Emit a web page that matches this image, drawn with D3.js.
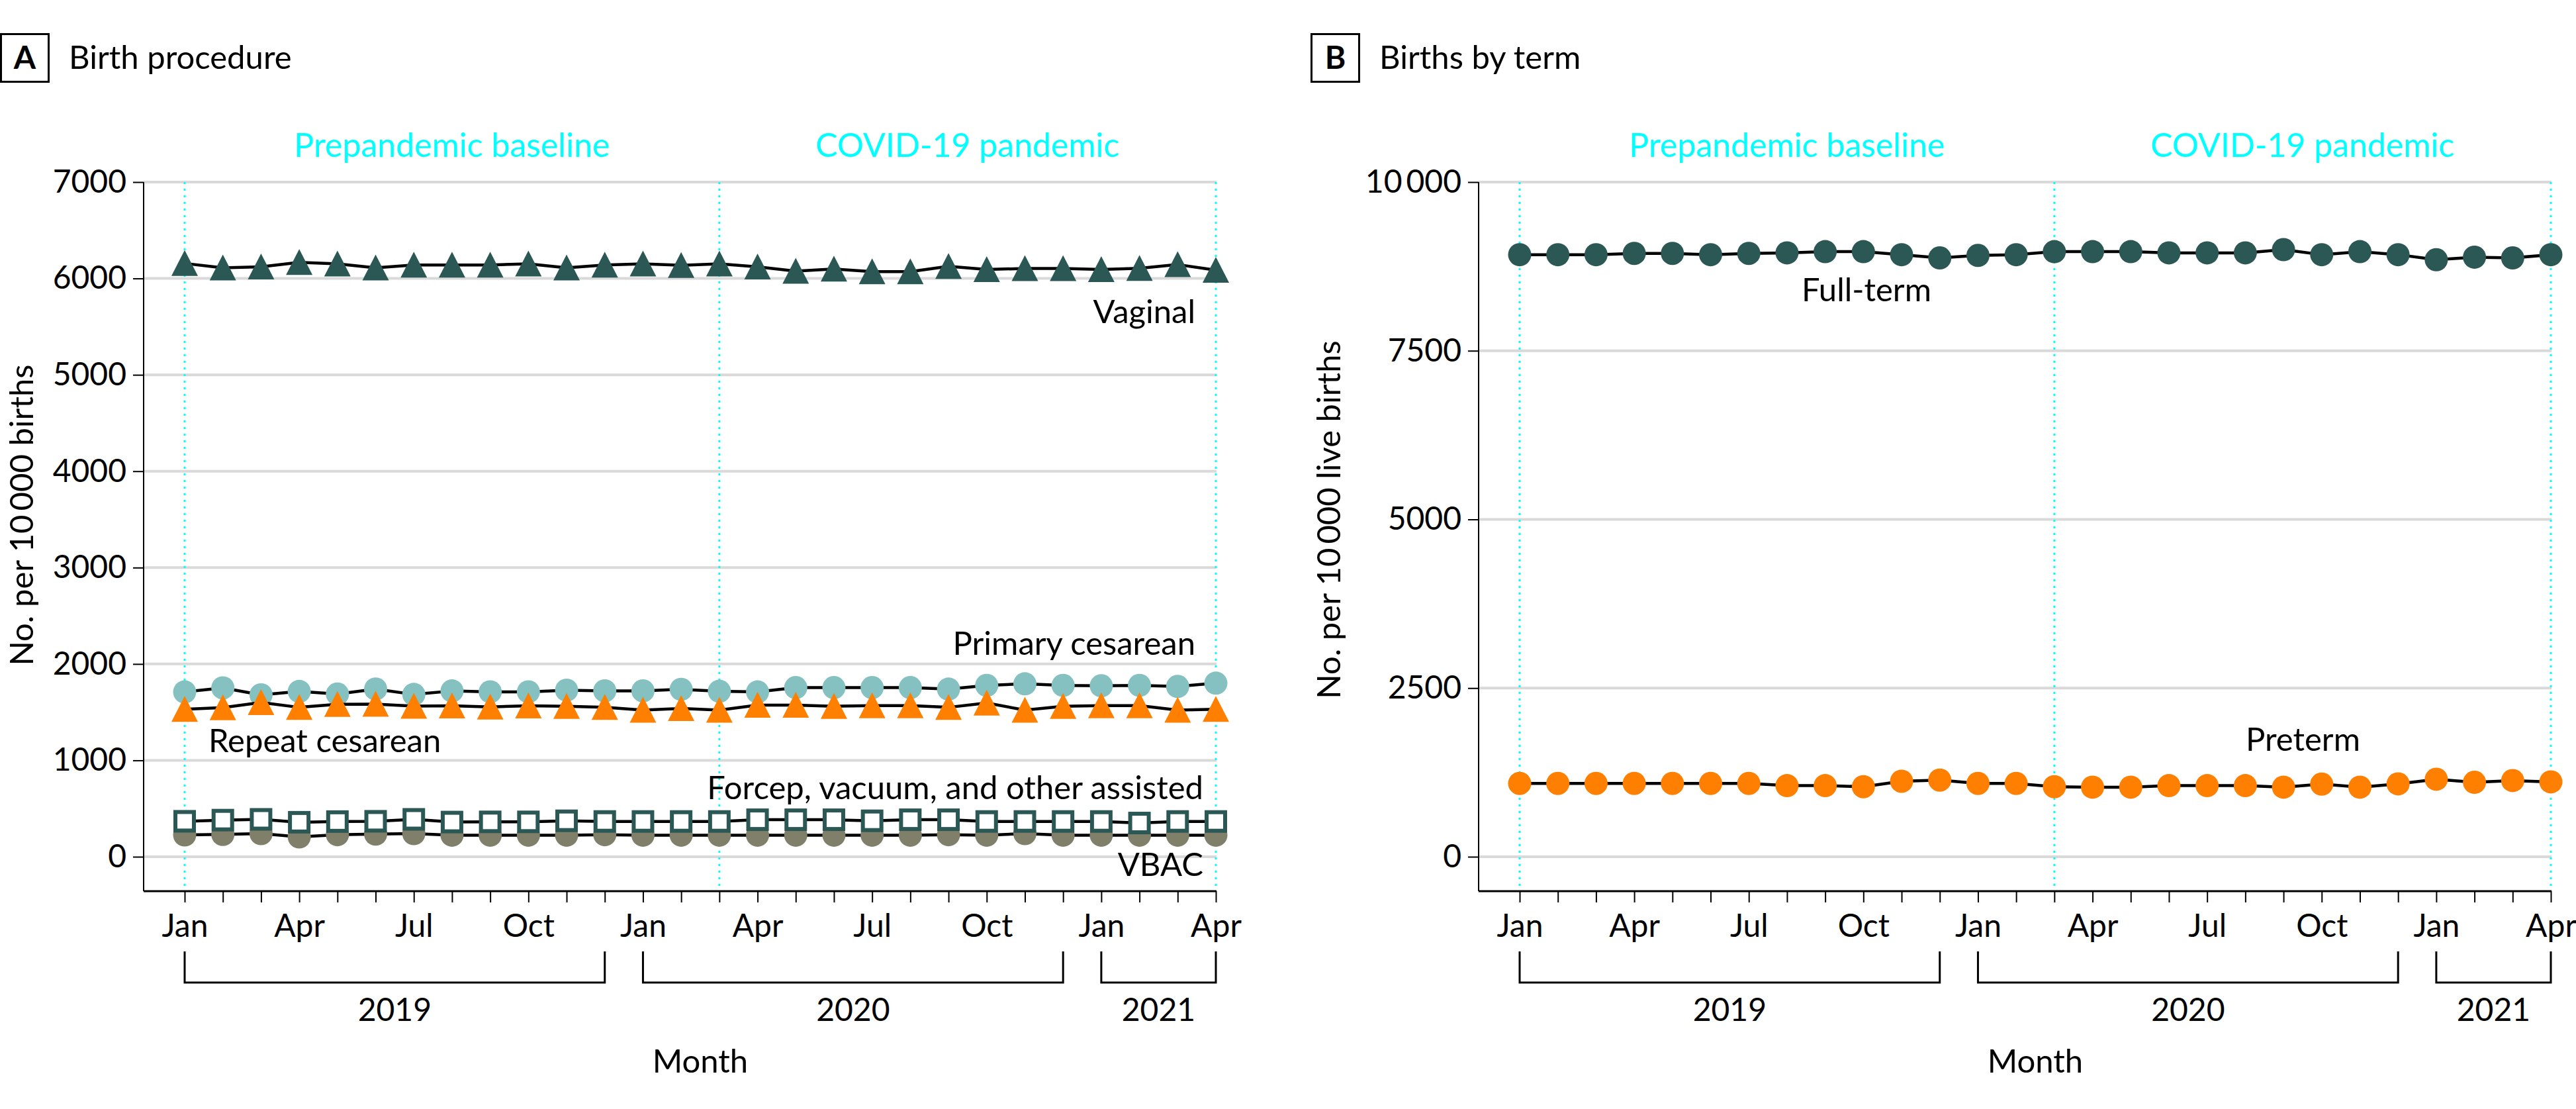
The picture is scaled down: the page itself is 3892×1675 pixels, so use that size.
<!DOCTYPE html>
<html>
<head>
<meta charset="utf-8">
<script src="https://cdnjs.cloudflare.com/ajax/libs/d3/7.8.5/d3.min.js"></script>
<style>
  body { margin: 0; background: #fff; }
  svg text { font-family: Lato, "DejaVu Sans", sans-serif; fill: #000; }
</style>
</head>
<body>
<svg id="chart" width="3892" height="1675"></svg>
<script>
// Months Jan 2019 .. Apr 2021
const monthLabels = ["Jan","Feb","Mar","Apr","May","Jun","Jul","Aug","Sep","Oct","Nov","Dec",
                     "Jan","Feb","Mar","Apr","May","Jun","Jul","Aug","Sep","Oct","Nov","Dec",
                     "Jan","Feb","Mar","Apr"];
const years = ["2019", "2020", "2021"];
const yearStart = [0, 12, 24];
const yearEnd = [11, 23, 27];
const periodNames = ["Prepandemic baseline", "COVID-19 pandemic"];
const periodBreaks = [0, 14, 27];

// Panel A - birth procedure, per 10 000 births
const vaginal = [6156,6110,6121,6167,6151,6110,6140,6140,6140,6151,6110,6140,6151,6137,
                 6151,6121,6076,6098,6071,6071,6126,6094,6103,6103,6094,6105,6144,6087];
const primaryCesarean = [1710,1752,1680,1715,1688,1740,1684,1720,1711,1711,1728,1721,1721,1737,
                         1717,1710,1755,1755,1755,1755,1739,1778,1794,1778,1774,1778,1767,1801];
const repeatCesarean = [1530,1548,1600,1550,1582,1584,1563,1566,1555,1566,1561,1550,1522,1538,
                        1522,1573,1573,1561,1568,1568,1550,1595,1522,1561,1568,1568,1522,1531];
const forcepAssisted = [368,380,388,358,365,368,388,360,362,362,373,366,366,366,
                        366,384,384,384,373,384,384,366,366,366,366,350,366,366];
const vbac = [226,231,240,206,229,235,240,224,224,224,224,229,224,224,
              224,224,224,224,224,224,229,224,240,224,224,224,224,224];
const ticksA = [0, 1000, 2000, 3000, 4000, 5000, 6000, 7000];

// Panel B - births by term, per 10 000 live births
const fullTerm = [8924,8924,8924,8943,8943,8924,8943,8951,8969,8969,8924,8876,8913,8924,
                  8969,8969,8969,8951,8951,8951,8999,8924,8969,8924,8849,8887,8876,8924];
const preterm = [1087,1087,1087,1087,1087,1087,1087,1054,1054,1038,1119,1136,1087,1087,
                 1038,1031,1031,1054,1054,1054,1031,1077,1031,1080,1149,1104,1129,1110];
const ticksB = [0, 2500, 5000, 7500, 10000];

const svg = d3.select("#chart");

const teal = "#2b5754";
const triangle = "M0,-20L20,19L-20,19Z";

//Layout
const plotLeft = 217, firstX = 279, lastX = 1837;
const plotTop = 275, zeroY = 1294, axisY = 1346;
const fmt = (d) => d >= 10000 ? d3.format(",")(d).replace(",", "\u2009") : String(d);

function drawPanel(cfg) {
	const g = svg.append("g").attr("transform", "translate(" + cfg.dx + ",0)");

	const x = d3.scaleLinear().domain([0, monthLabels.length - 1]).range([firstX, lastX]);
	const y = d3.scaleLinear().domain([0, cfg.yMax]).range([zeroY, plotTop]);
	const right = x(monthLabels.length - 1) + 1;

	//Gridlines
	g.append("g").selectAll("line")
	 .data(cfg.ticks)
	 .join("line")
	 .attr("x1", plotLeft).attr("x2", right)
	 .attr("y1", (d) => y(d)).attr("y2", (d) => y(d))
	 .attr("stroke", "#d9d9d9")
	 .attr("stroke-width", 4);

	//Period lines
	g.append("g").selectAll("line")
	 .data(periodBreaks)
	 .join("line")
	 .attr("x1", (d) => x(d)).attr("x2", (d) => x(d))
	 .attr("y1", y(cfg.yMax)).attr("y2", axisY - 6)
	 .attr("stroke", "#00ffff")
	 .attr("stroke-width", 3)
	 .attr("stroke-dasharray", "3 7");

	g.append("g").selectAll("text")
	 .data(periodNames)
	 .join("text")
	 .attr("x", (d, i) => (x(periodBreaks[i]) + x(periodBreaks[i + 1])) / 2)
	 .attr("y", 237)
	 .attr("text-anchor", "middle")
	 .style("font-size", "50px")
	 .style("fill", "#00ffff")
	 .text((d) => d);

	//Y axis
	const yAxis = d3.axisLeft(y)
		.tickValues(cfg.ticks)
		.tickSize(16)
		.tickSizeOuter(0)
		.tickPadding(10)
		.tickFormat(fmt);
	const yg = g.append("g").attr("transform", "translate(" + plotLeft + ",0)").call(yAxis);
	yg.select(".domain").remove();
	yg.selectAll(".tick line").attr("stroke-width", 2);
	yg.selectAll(".tick text").style("font-size", "48px").attr("font-family", null);
	g.append("line")
	 .attr("x1", plotLeft).attr("x2", plotLeft)
	 .attr("y1", y(cfg.yMax)).attr("y2", axisY)
	 .attr("stroke", "#000").attr("stroke-width", 2);

	g.append("text")
	 .attr("transform", "translate(" + cfg.titleX + "," + cfg.titleY + ") rotate(-90)")
	 .attr("text-anchor", "middle")
	 .style("font-size", "49px")
	 .text(cfg.yTitle);

	//X axis
	const xAxis = d3.axisBottom(x)
		.tickValues(d3.range(monthLabels.length))
		.tickSize(17)
		.tickSizeOuter(0)
		.tickPadding(18)
		.tickFormat((d) => d % 3 === 0 ? monthLabels[d] : "");
	const xg = g.append("g").attr("transform", "translate(0," + axisY + ")").call(xAxis);
	xg.select(".domain").remove();
	xg.selectAll(".tick line").attr("stroke-width", 2);
	xg.selectAll(".tick text").style("font-size", "48px").attr("font-family", null);
	g.append("line")
	 .attr("x1", plotLeft).attr("x2", right)
	 .attr("y1", axisY).attr("y2", axisY)
	 .attr("stroke", "#000").attr("stroke-width", 3);

	//Year brackets
	g.append("g").selectAll("path")
	 .data(years)
	 .join("path")
	 .attr("d", (d, i) => "M" + x(yearStart[i]) + ",1437V1484H" + x(yearEnd[i]) + "V1437")
	 .attr("fill", "none")
	 .attr("stroke", "#000")
	 .attr("stroke-width", 3);

	g.append("g").selectAll("text")
	 .data(years)
	 .join("text")
	 .attr("x", (d, i) => (x(yearStart[i]) + x(yearEnd[i])) / 2)
	 .attr("y", 1542)
	 .attr("text-anchor", "middle")
	 .style("font-size", "48px")
	 .text((d) => d);

	g.append("text")
	 .attr("x", (x(0) + x(monthLabels.length - 1)) / 2)
	 .attr("y", 1620)
	 .attr("text-anchor", "middle")
	 .style("font-size", "49px")
	 .text("Month");

	//Series
	const line = d3.line().x((d, i) => x(i)).y((d) => y(d));
	cfg.series.forEach(function (s) {
		g.append("path")
		 .datum(s.values)
		 .attr("d", line)
		 .attr("fill", "none")
		 .attr("stroke", "#000")
		 .attr("stroke-width", 4.5)
		 .attr("stroke-linejoin", "round");

		const m = g.append("g");
		if (s.shape === "circle") {
			m.selectAll("circle").data(s.values).join("circle")
			 .attr("cx", (d, i) => x(i)).attr("cy", (d) => y(d))
			 .attr("r", 17.5)
			 .attr("fill", s.color);
		} else if (s.shape === "triangle") {
			m.selectAll("path").data(s.values).join("path")
			 .attr("d", triangle)
			 .attr("transform", (d, i) => "translate(" + x(i) + "," + y(d) + ")")
			 .attr("fill", s.color);
		} else {
			m.selectAll("rect").data(s.values).join("rect")
			 .attr("x", (d, i) => x(i) - 14).attr("y", (d) => y(d) - 14)
			 .attr("width", 28).attr("height", 28)
			 .attr("fill", "#fff")
			 .attr("stroke", s.color)
			 .attr("stroke-width", 6);
		}
	});

	g.append("g").selectAll("text")
	 .data(cfg.series)
	 .join("text")
	 .attr("x", (d) => d.lx)
	 .attr("y", (d) => d.ly)
	 .attr("text-anchor", (d) => d.anchor)
	 .style("font-size", "49px")
	 .text((d) => d.label);

	//Panel header
	const h = svg.append("g").attr("transform", "translate(" + cfg.hx + ",0)");
	h.append("rect")
	 .attr("x", 1.5).attr("y", 51.5).attr("width", 72).attr("height", 72)
	 .attr("fill", "none").attr("stroke", "#000").attr("stroke-width", 3);
	h.append("text")
	 .attr("x", 37.5).attr("y", 104)
	 .attr("text-anchor", "middle")
	 .style("font-size", "48px").style("font-weight", "bold")
	 .text(cfg.letter);
	h.append("text")
	 .attr("x", 104).attr("y", 104)
	 .style("font-size", "49px")
	 .text(cfg.title);
}

drawPanel({
	dx: 0, hx: 0, letter: "A", title: "Birth procedure",
	yMax: 7000, ticks: ticksA,
	yTitle: "No. per 10\u2009000 births", titleX: 50, titleY: 778,
	series: [
		{ values: vaginal, shape: "triangle", color: teal, label: "Vaginal", lx: 1806, ly: 488, anchor: "end" },
		{ values: primaryCesarean, shape: "circle", color: "#84c1c0", label: "Primary cesarean", lx: 1806, ly: 989, anchor: "end" },
		{ values: repeatCesarean, shape: "triangle", color: "#ff8000", label: "Repeat cesarean", lx: 315, ly: 1136, anchor: "start" },
		{ values: vbac, shape: "circle", color: "#807f6a", label: "VBAC", lx: 1818, ly: 1323, anchor: "end" },
		{ values: forcepAssisted, shape: "square", color: teal, label: "Forcep, vacuum, and other assisted", lx: 1818, ly: 1207, anchor: "end" }
	]
});

drawPanel({
	dx: 2017, hx: 1980, letter: "B", title: "Births by term",
	yMax: 10000, ticks: ticksB,
	yTitle: "No. per 10\u2009000 live births", titleX: 8, titleY: 785,
	series: [
		{ values: fullTerm, shape: "circle", color: teal, label: "Full-term", lx: 705, ly: 455, anchor: "start" },
		{ values: preterm, shape: "circle", color: "#ff8000", label: "Preterm", lx: 1376, ly: 1134, anchor: "start" }
	]
});
</script>
</body>
</html>
